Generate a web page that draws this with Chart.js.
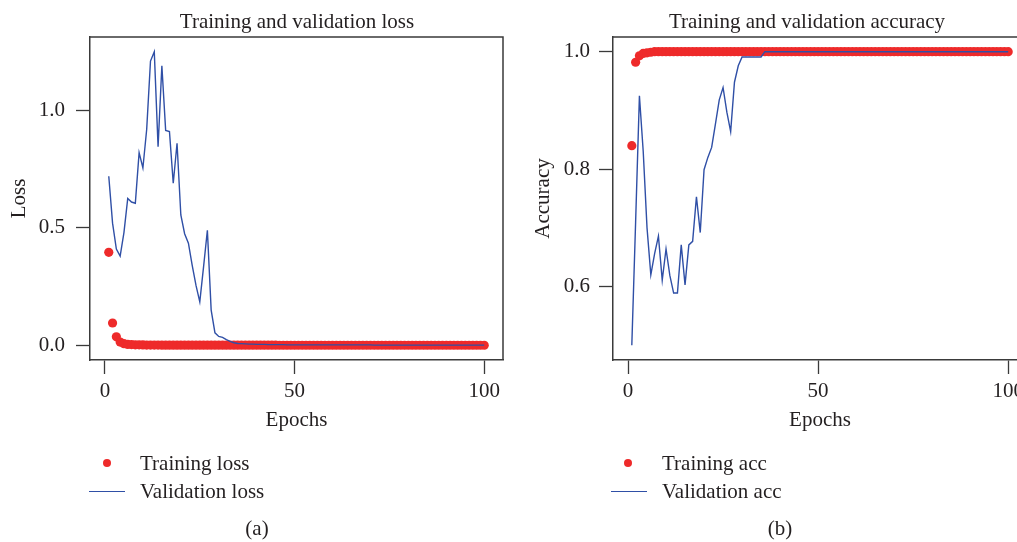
<!DOCTYPE html>
<html><head><meta charset="utf-8">
<script src="https://cdn.jsdelivr.net/npm/chart.js@4.4.1/dist/chart.umd.min.js"></script>
<style>
html,body{margin:0;padding:0;background:#fff;overflow:hidden;width:1017px;height:542px;}
#wrap{position:relative;width:1017px;height:542px;overflow:hidden;font-family:'Liberation Serif',serif;color:#231f20;}
canvas{position:absolute;top:0;}
.t{position:absolute;font-size:21px;line-height:24px;white-space:nowrap;}
.c{transform:translateX(-50%);}
.dot{position:absolute;width:8px;height:8px;border-radius:50%;background:#EE2A2A;}
.ln{position:absolute;height:1.4px;background:#2F4FA6;}
</style></head>
<body><div id="wrap">
<canvas id="c1" width="520" height="542" style="left:0px"></canvas>
<canvas id="c2" width="520" height="542" style="left:520px"></canvas>
<div class="t c" style="left:297px;top:9px">Training and validation loss</div>
<div class="t c" style="left:807px;top:9px">Training and validation accuracy</div>
<div class="dot" style="left:103px;top:459px"></div>
<div class="t" style="left:140px;top:451px">Training loss</div>
<div class="ln" style="left:89px;width:36px;top:491px"></div>
<div class="t" style="left:140px;top:479px">Validation loss</div>
<div class="t c" style="left:257px;top:516px">(a)</div>
<div class="dot" style="left:624px;top:459px"></div>
<div class="t" style="left:662px;top:451px">Training acc</div>
<div class="ln" style="left:611px;width:36px;top:491px"></div>
<div class="t" style="left:662px;top:479px">Validation acc</div>
<div class="t c" style="left:780px;top:516px">(b)</div>
</div>
<script>
const epochs=[1,2,3,4,5,6,7,8,9,10,11,12,13,14,15,16,17,18,19,20,21,22,23,24,25,26,27,28,29,30,31,32,33,34,35,36,37,38,39,40,41,42,43,44,45,46,47,48,49,50,51,52,53,54,55,56,57,58,59,60,61,62,63,64,65,66,67,68,69,70,71,72,73,74,75,76,77,78,79,80,81,82,83,84,85,86,87,88,89,90,91,92,93,94,95,96,97,98,99,100];
const trainLoss=[0.396,0.095,0.036,0.014,0.007,0.004,0.003,0.002,0.002,0.0015,
0.0012,0.001,0.001,0.0009,0.0008,0.0008,0.0007,0.0007,0.0006,0.0006,
0.0005,0.0005,0.0005,0.0005,0.0005,0.0005,0.0005,0.0005,0.0005,0.0005,
0.0004,0.0004,0.0004,0.0004,0.0004,0.0004,0.0004,0.0004,0.0004,0.0004,
0.0004,0.0004,0.0004,0.0004,0.0004,0.0003,0.0003,0.0003,0.0003,0.0003,
0.0003,0.0003,0.0003,0.0003,0.0003,0.0003,0.0003,0.0003,0.0003,0.0003,
0.0003,0.0003,0.0003,0.0003,0.0003,0.0002,0.0002,0.0002,0.0002,0.0002,
0.0002,0.0002,0.0002,0.0002,0.0002,0.0002,0.0002,0.0002,0.0002,0.0002,
0.0002,0.0002,0.0002,0.0002,0.0002,0.0002,0.0002,0.0002,0.0002,0.0002,
0.0002,0.0002,0.0002,0.0002,0.0002,0.0002,0.0002,0.0002,0.0002,0.0002];
const valLoss=[0.72,0.52,0.41,0.38,0.48,0.625,0.61,0.605,0.82,0.755,
0.92,1.21,1.25,0.845,1.19,0.915,0.91,0.69,0.86,0.555,
0.475,0.435,0.34,0.255,0.185,0.335,0.49,0.15,0.053,0.038,
0.034,0.024,0.017,0.011,0.008,0.007,0.006,0.005,0.005,0.004,
0.004,0.004,0.003,0.003,0.003,0.003,0.003,0.002,0.002,0.002,
0.002,0.002,0.002,0.002,0.002,0.002,0.002,0.002,0.002,0.002,
0.002,0.002,0.002,0.002,0.002,0.002,0.002,0.002,0.002,0.002,
0.001,0.001,0.001,0.001,0.001,0.001,0.001,0.001,0.001,0.001,
0.001,0.001,0.001,0.001,0.001,0.001,0.001,0.001,0.001,0.001,
0.001,0.001,0.001,0.001,0.001,0.001,0.001,0.001,0.001,0.001];
const trainAcc=[0.84,0.982,0.993,0.997,0.998,0.999,1,1,1,1,
1,1,1,1,1,1,1,1,1,1,1,1,1,1,1,1,1,1,1,1,
1,1,1,1,1,1,1,1,1,1,1,1,1,1,1,1,1,1,1,1,
1,1,1,1,1,1,1,1,1,1,1,1,1,1,1,1,1,1,1,1,
1,1,1,1,1,1,1,1,1,1,1,1,1,1,1,1,1,1,1,1,
1,1,1,1,1,1,1,1,1,1];
const valAcc=[0.50,0.71,0.925,0.83,0.70,0.62,0.656,0.686,0.611,0.664,
0.619,0.589,0.589,0.671,0.603,0.671,0.677,0.753,0.692,0.799,
0.82,0.837,0.877,0.918,0.939,0.897,0.864,0.948,0.976,0.991,
0.991,0.991,0.991,0.991,0.991,1,1,1,1,1,
1,1,1,1,1,1,1,1,1,1,1,1,1,1,1,1,1,1,1,1,
1,1,1,1,1,1,1,1,1,1,1,1,1,1,1,1,1,1,1,1,
1,1,1,1,1,1,1,1,1,1,1,1,1,1,1,1,1,1,1,1];
const epochTicks=[0,50,100];
const lossTicks=[0,0.5,1.0];
const accTicks=[0.6,0.8,1.0];

Chart.defaults.font.family="'Liberation Serif', serif";
Chart.defaults.font.size=21;
Chart.defaults.color='#231f20';

const AX='#3a3a3a';
const framePlugin={id:'frame',beforeDatasetsDraw(c){const {ctx,chartArea:a}=c;ctx.save();ctx.strokeStyle=AX;ctx.lineWidth=1.5;ctx.beginPath();ctx.moveTo(a.left,a.top);ctx.lineTo(a.right,a.top);ctx.lineTo(a.right,a.bottom);ctx.stroke();ctx.restore();}};

function pts(arr){return epochs.map((e,i)=>({x:e,y:arr[i]}));}

function make(id,cfg){
  return new Chart(document.getElementById(id),{
    type:'line',
    data:{datasets:[
      {label:cfg.valLabel,data:pts(cfg.val),borderColor:'#2F4FA6',borderWidth:1.4,pointRadius:0,tension:0,fill:false,order:0},
      {label:cfg.trainLabel,data:pts(cfg.train),showLine:false,pointRadius:4.6,pointBorderWidth:0,pointBackgroundColor:'#EE2A2A',backgroundColor:'#EE2A2A',order:1}
    ]},
    options:{
      responsive:false,animation:false,devicePixelRatio:1,
      layout:{padding:{left:0,right:cfg.padRight,top:37,bottom:109}},
      plugins:{legend:{display:false},tooltip:{enabled:false},title:{display:false}},
      scales:{
        x:{type:'linear',min:-3.95,max:104.95,
          afterBuildTicks:s=>{s.ticks=epochTicks.map(v=>({value:v}));},
          afterFit:s=>{s.height=73;},
          grid:{drawOnChartArea:false,drawTicks:true,tickLength:14,color:AX,tickColor:AX,tickWidth:1.3},
          border:{display:true,color:AX,width:1.5},
          ticks:{padding:5,maxRotation:0,autoSkip:false,callback:v=>String(v)},
          title:{display:true,text:'Epochs',font:{size:21},padding:{top:0,bottom:0}}},
        y:{type:'linear',min:cfg.yMin,max:cfg.yMax,
          afterBuildTicks:s=>{s.ticks=cfg.yTicks.map(v=>({value:v}));},
          afterFit:s=>{s.width=cfg.yWidth;},
          grid:{drawOnChartArea:false,drawTicks:true,tickLength:14,color:AX,tickColor:AX,tickWidth:1.3},
          border:{display:true,color:AX,width:1.5},
          ticks:{padding:cfg.tickPad,autoSkip:false,callback:v=>Number(v).toFixed(1)},
          title:{display:true,text:cfg.yTitle,font:{size:21},padding:{top:cfg.titlePad,bottom:0}}}
      }
    },
    plugins:[framePlugin]
  });
}

make('c1',{val:valLoss,train:trainLoss,valLabel:'Validation loss',trainLabel:'Training loss',
  yMin:-0.0625,yMax:1.3125,yTicks:lossTicks,yTitle:'Loss',yWidth:90,padRight:17,tickPad:11,titlePad:7});
make('c2',{val:valAcc,train:trainAcc,valLabel:'Validation acc',trainLabel:'Training acc',
  yMin:0.475,yMax:1.025,yTicks:accTicks,yTitle:'Accuracy',yWidth:93,padRight:13,tickPad:9,titlePad:11});
</script>
</body></html>
